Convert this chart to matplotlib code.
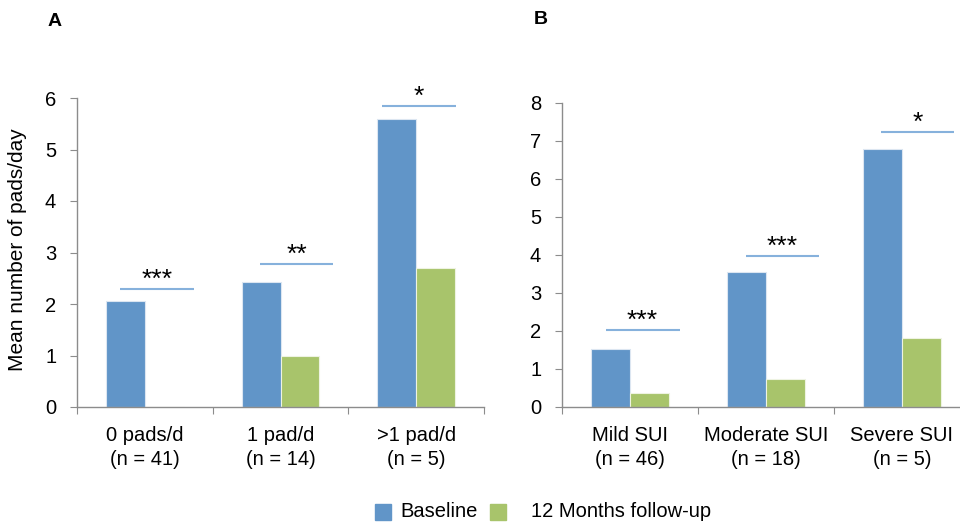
import numpy as np
import matplotlib.pyplot as plt
from matplotlib.patches import Rectangle

plt.rcParams['font.family'] = ['Liberation Sans', 'DejaVu Sans']

# Panel A: by pads/day at baseline
cats_a = ["0 pads/d\n(n = 41)", "1 pad/d\n(n = 14)", ">1 pad/d\n(n = 5)"]
base_a = [2.05, 2.43, 5.6]
follow_a = [0.0, 1.0, 2.7]
sig_a = ["***", "**", "*"]
sig_y_a = [2.29, 2.78, 5.84]
sig_x0_a = [-0.18, -0.15, -0.25]
sig_x1_a = [0.36, 0.39, 0.29]

# Panel B: by SUI severity
cats_b = ["Mild SUI\n(n = 46)", "Moderate SUI\n(n = 18)", "Severe SUI\n(n = 5)"]
base_b = [1.52, 3.56, 6.8]
follow_b = [0.37, 0.73, 1.81]
sig_b = ["***", "***", "*"]
sig_y_b = [2.02, 3.98, 7.24]
sig_x0_b = [-0.18, -0.15, -0.155]
sig_x1_b = [0.365, 0.39, 0.38]

series = ["Baseline", "12 Months follow-up"]
blue = "#6195C8"
green = "#A8C46B"
line_col = "#86B1DC"
axis_col = "#8C8C8C"
w = 0.2857
fs = 14.5


def draw(ax, cats, base, follow, sig, sig_y, x0, x1, ymax):
    x = np.arange(len(cats))
    ax.bar(x - w / 2, base, w, color=blue, edgecolor="#DCE6F1", linewidth=0.8)
    ax.bar(x + w / 2, follow, w, color=green, edgecolor="#EEF3E2", linewidth=0.8)
    for i in range(len(cats)):
        ax.plot([i + x0[i], i + x1[i]], [sig_y[i], sig_y[i]], color=line_col, lw=1.5,
                solid_capstyle="butt")
        ax.annotate(sig[i], ((i + x0[i] + i + x1[i]) / 2, sig_y[i]), xytext=(0, -2),
                    textcoords="offset points", ha="center", va="bottom", fontsize=19)
    ax.set_xlim(-0.5, len(cats) - 0.5)
    ax.set_ylim(0, ymax)
    ax.set_yticks(range(ymax + 1))
    ax.set_xticks(np.arange(len(cats) + 1) - 0.5)
    ax.set_xticklabels([])
    ax.set_xticks(x, minor=True)
    ax.set_xticklabels(cats, minor=True, linespacing=1.3)
    ax.tick_params(axis="x", which="minor", length=0, pad=14, labelsize=fs)
    ax.tick_params(axis="x", which="major", length=5, color=axis_col, direction="out")
    ax.tick_params(axis="y", length=5, color=axis_col, pad=10, labelsize=fs)
    for s in ["top", "right"]:
        ax.spines[s].set_visible(False)
    for s in ["left", "bottom"]:
        ax.spines[s].set_color(axis_col)
        ax.spines[s].set_linewidth(1)


fig = plt.figure(figsize=(9.6, 5.24), dpi=100)
ax_a = fig.add_axes([77 / 960, 1 - 407 / 524, 407 / 960, 309 / 524])
ax_b = fig.add_axes([562 / 960, 1 - 407 / 524, 408 / 960, 304 / 524])
draw(ax_a, cats_a, base_a, follow_a, sig_a, sig_y_a, sig_x0_a, sig_x1_a, 6)
draw(ax_b, cats_b, base_b, follow_b, sig_b, sig_y_b, sig_x0_b, sig_x1_b, 8)

fig.text(18 / 960, 1 - 250 / 524, "Mean number of pads/day", rotation=90,
         ha="center", va="center", fontsize=15)
fig.text(55 / 960, 1 - 21 / 524, "A", ha="center", va="center", fontsize=14, fontweight="bold")
fig.text(541 / 960, 1 - 20 / 524, "B", ha="center", va="center", fontsize=14, fontweight="bold")

# legend
ly = 1 - 511.5 / 524
fig.patches.append(Rectangle((375 / 960, ly - 8 / 524), 16 / 960, 16 / 524,
                             transform=fig.transFigure, color=blue))
fig.text(400 / 960, ly, series[0], ha="left", va="center", fontsize=fs)
fig.patches.append(Rectangle((490 / 960, ly - 8 / 524), 16 / 960, 16 / 524,
                             transform=fig.transFigure, color=green))
fig.text(531 / 960, ly, series[1], ha="left", va="center", fontsize=fs)

fig.savefig("out.png", dpi=100)
